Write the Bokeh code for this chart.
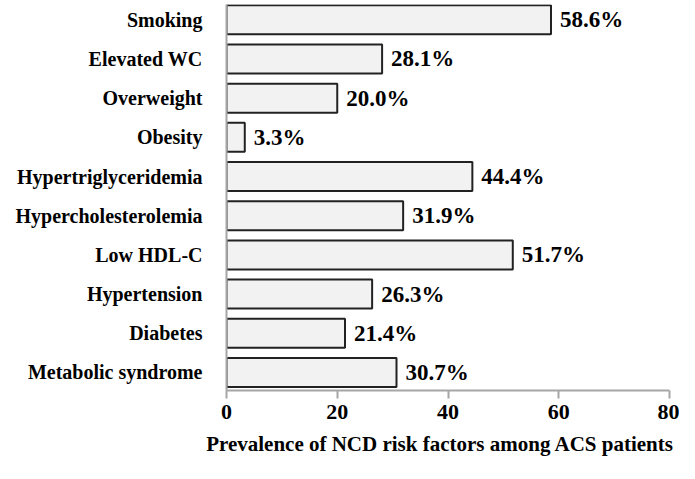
from bokeh.plotting import figure
from bokeh.models import Range1d, FixedTicker, ColumnDataSource
from bokeh.core.properties import value
from bokeh.embed import file_html
from bokeh.resources import INLINE

categories = ["Metabolic syndrome", "Diabetes", "Hypertension", "Low HDL-C",
              "Hypercholesterolemia", "Hypertriglyceridemia", "Obesity",
              "Overweight", "Elevated WC", "Smoking"]
values = [30.7, 21.4, 26.3, 51.7, 31.9, 44.4, 3.3, 20.0, 28.1, 58.6]
x_ticks = [0, 20, 40, 60, 80]
x_title = "Prevalence  of NCD  risk factors among  ACS patients"

FONT = "Liberation Serif"
pos = list(range(len(categories)))
src = ColumnDataSource(dict(y=pos, v=values, lab=[f"{v:.1f}%" for v in values]))

p = figure(width=679, height=463, output_backend="svg", toolbar_location=None,
           x_range=Range1d(0, 80), y_range=Range1d(-0.46, 9.39),
           min_border_left=226, min_border_right=10, min_border_top=4,
           min_border_bottom=73)
p.outline_line_color = None
p.grid.visible = False
p.background_fill_color = "white"
p.border_fill_color = "white"

p.hbar(y="y", right="v", left=0, height=0.74, source=src,
       fill_color="#f2f2f2", line_color="#222222", line_width=2)
p.text(x="v", y="y", text="lab", source=src, x_offset=9,
       text_baseline="middle", text_align="left",
       text_font=value(FONT), text_font_style="bold", text_font_size="23px",
       text_color="black")

xa = p.xaxis[0]
xa.ticker = FixedTicker(ticks=x_ticks)
xa.axis_line_color = "#a6a6a6"
xa.axis_line_width = 2
xa.major_tick_line_color = "#a6a6a6"
xa.major_tick_line_width = 2
xa.major_tick_out = 8
xa.major_tick_in = 0
xa.minor_tick_line_color = None
xa.major_label_text_font = FONT
xa.major_label_text_font_style = "bold"
xa.major_label_text_font_size = "22px"
xa.major_label_text_color = "black"
xa.major_label_standoff = 6
xa.axis_label = x_title
xa.axis_label_text_font = FONT
xa.axis_label_text_font_style = "bold"
xa.axis_label_text_font_size = "21px"
xa.axis_label_text_color = "black"
xa.axis_label_standoff = 10

ya = p.yaxis[0]
ya.ticker = FixedTicker(ticks=pos)
ya.major_label_overrides = {i: c for i, c in enumerate(categories)}
ya.axis_line_color = "#a6a6a6"
ya.axis_line_width = 2
ya.major_tick_line_color = None
ya.minor_tick_line_color = None
ya.major_label_text_font = FONT
ya.major_label_text_font_style = "bold"
ya.major_label_text_font_size = "20px"
ya.major_label_text_color = "black"
ya.major_label_standoff = 18

open("out.html", "w").write(file_html(p, INLINE))
